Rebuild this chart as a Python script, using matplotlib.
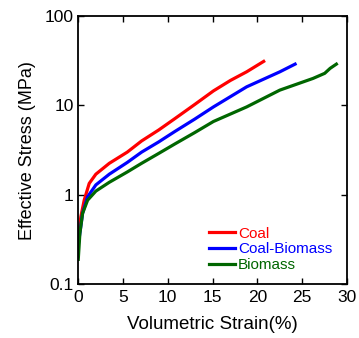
import matplotlib
matplotlib.use("Agg")
import matplotlib.pyplot as plt

plt.rcParams["font.family"] = ["Liberation Sans", "DejaVu Sans"]

# curves (strain %, effective stress MPa)
coal_strain = [0.1, 0.33, 0.7, 1.26, 2.0, 3.5, 5.5, 7.1, 9.0, 10.8, 13.0, 15.1, 17.0, 18.8, 20.7]
coal_stress = [0.37, 0.57, 0.87, 1.34, 1.70, 2.25, 3.0, 4.0, 5.3, 7.1, 10.2, 14.5, 19.0, 23.7, 31.0]

mix_strain = [0.05, 0.52, 1.08, 2.0, 3.5, 5.5, 7.1, 9.0, 10.8, 13.0, 15.1, 18.8, 22.5, 24.2]
mix_stress = [0.28, 0.62, 0.95, 1.29, 1.70, 2.3, 3.0, 3.9, 5.1, 7.0, 9.6, 16.1, 23.7, 28.9]

bio_strain = [0.04, 0.22, 0.52, 1.08, 2.0, 3.5, 5.5, 7.1, 9.0, 10.8, 13.0, 15.1, 18.8, 22.5, 26.2, 27.5, 28.1, 28.8]
bio_stress = [0.19, 0.37, 0.62, 0.87, 1.10, 1.38, 1.8, 2.25, 2.9, 3.7, 4.95, 6.6, 9.6, 14.8, 20.0, 22.8, 25.9, 28.9]

labels = ["Coal", "Coal-Biomass", "Biomass"]
colors = ["#ff0000", "#0000ff", "#006600"]

fig = plt.figure(figsize=(3.59, 3.38), dpi=100)
ax = fig.add_axes([0.217, 0.159, 0.75, 0.794])

for xs, ys, lab, c in zip([coal_strain, mix_strain, bio_strain],
                          [coal_stress, mix_stress, bio_stress], labels, colors):
    ax.plot(xs, ys, color=c, lw=2.3, label=lab, solid_joinstyle="round")

ax.set_yscale("log")
ax.set_xlim(0, 30)
ax.set_ylim(0.1, 100)
ax.set_xticks([0, 5, 10, 15, 20, 25, 30])
ax.set_yticks([0.1, 1, 10, 100])
ax.set_yticklabels(["0.1", "1", "10", "100"])
ax.minorticks_off()
ax.tick_params(direction="in", top=True, right=True, length=4, width=1,
               labelsize=12.5)
ax.tick_params(axis="x", pad=4)
ax.tick_params(axis="y", pad=3)
for s in ax.spines.values():
    s.set_linewidth(1.3)

ax.set_xlabel("Volumetric Strain(%)", fontsize=13.5, labelpad=8)
ax.set_ylabel("Effective Stress (MPa)", fontsize=13, labelpad=6)

ax.legend(loc="upper left", bbox_to_anchor=(0.487, 0.215), frameon=False,
          fontsize=11, handlelength=1.7, handletextpad=0.2, labelspacing=0.12,
          borderpad=0, borderaxespad=0, labelcolor="linecolor")

fig.savefig("out.png", dpi=100)
